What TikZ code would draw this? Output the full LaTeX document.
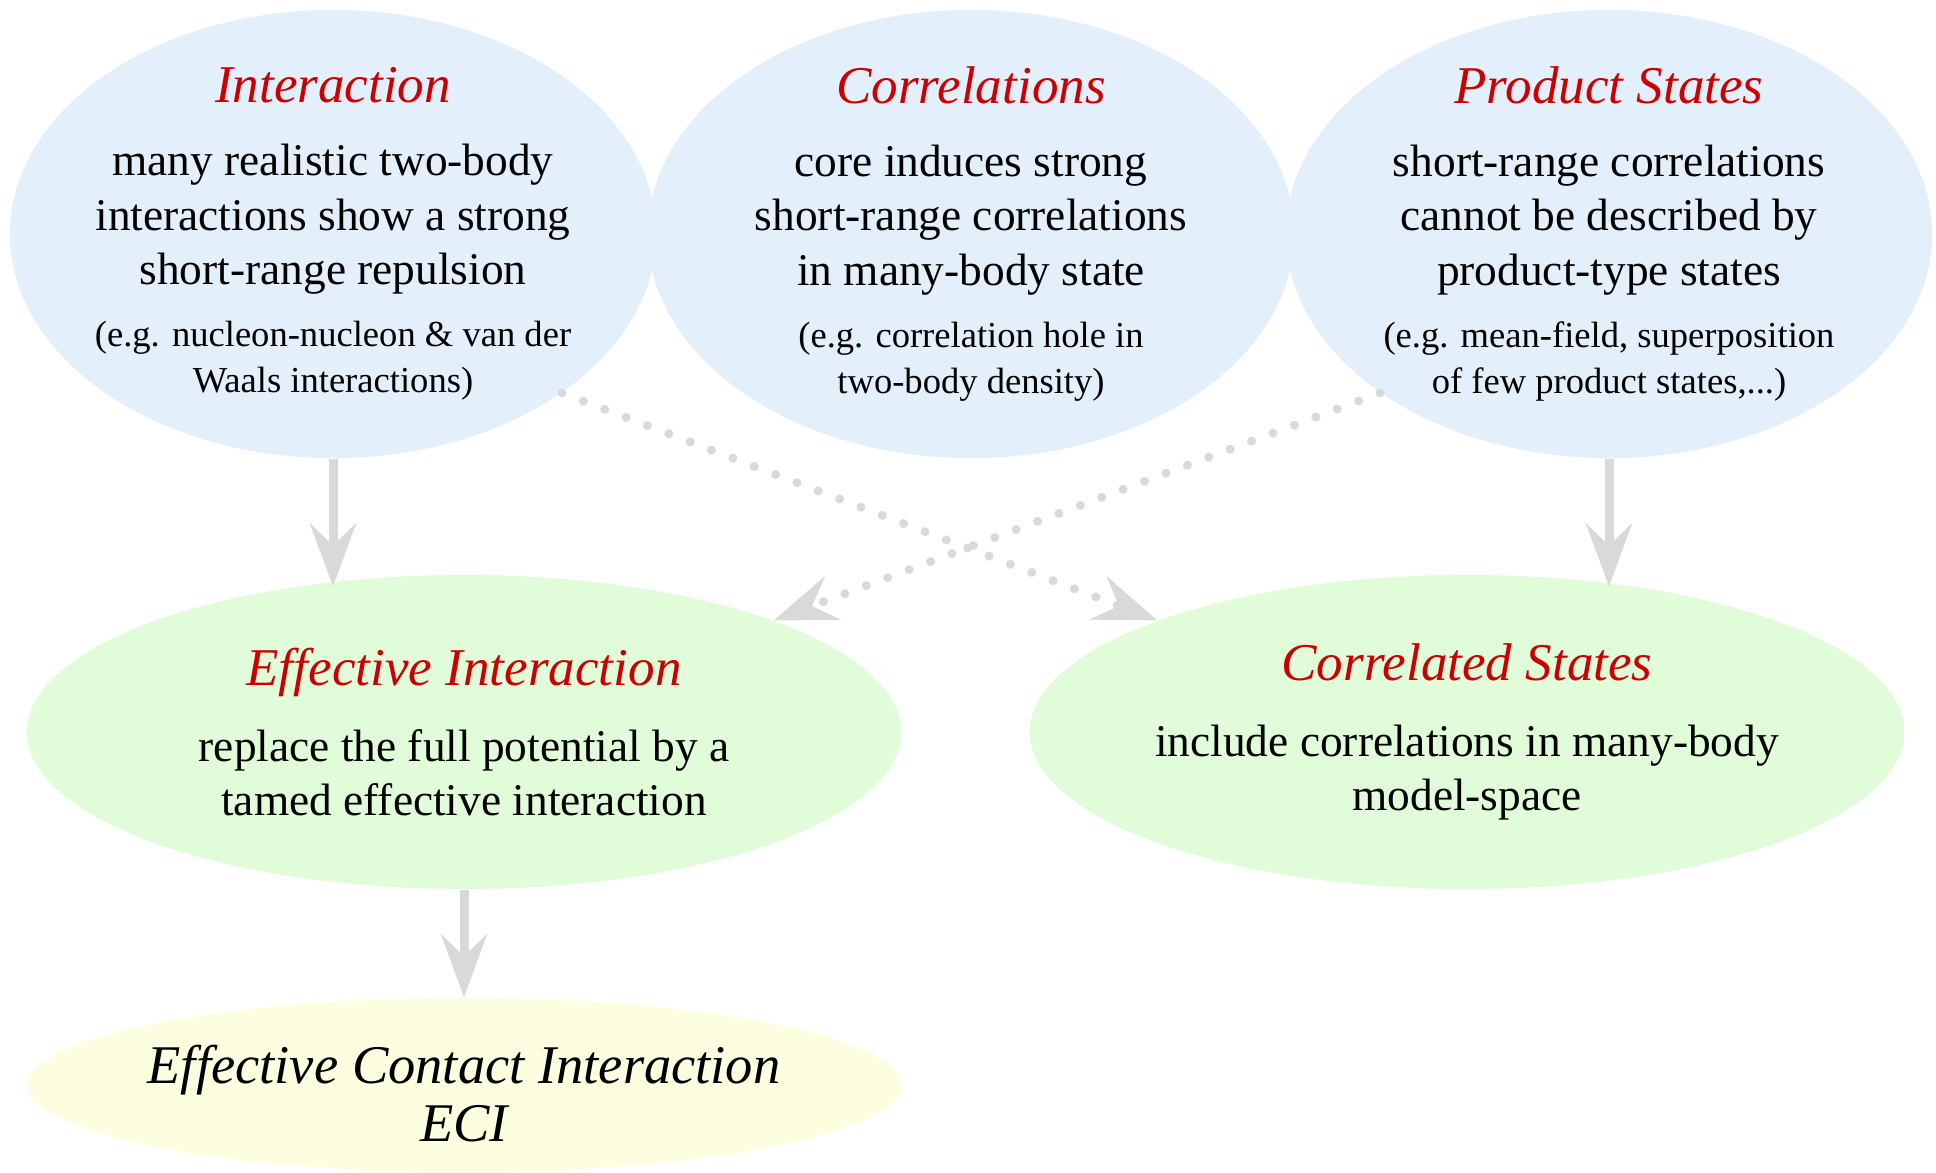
\documentclass[tikz,border=0pt]{standalone}
\usepackage{fontspec}
\setmainfont{Liberation Serif}
\usetikzlibrary{shapes.geometric}
\usetikzlibrary{arrows.meta}
\definecolor{topfill}{RGB}{227,240,252}
\definecolor{midfill}{RGB}{225,252,216}
\definecolor{lowfill}{RGB}{253,253,224}
\definecolor{headred}{RGB}{204,0,0}
\newcommand{\blobhead}[1]{{\color{headred}\fontsize{15.1}{18}\selectfont\itshape #1}}
\newcommand{\blobnote}[1]{{\fontsize{10.4}{12.5}\selectfont #1}}

\begin{document}
\begin{tikzpicture}[x=0.01cm,y=0.01cm,
    blob/.style={ellipse,inner sep=0pt},
    topblob/.style={blob,fill=topfill,minimum width=6.46cm,minimum height=4.48cm},
    midblob/.style={blob,fill=midfill,minimum width=8.74cm,minimum height=3.14cm},
    lowblob/.style={blob,fill=lowfill,minimum width=8.74cm,minimum height=1.74cm},
    blobtext/.style={align=center,font=\fontsize{12.9}{15.4}\selectfont},
    flow/.style={draw=black!15,line width=2.56pt,-{Stealth[length=17.9pt,width=13.1pt,inset=6.3pt]}},
    hint/.style={flow,line cap=round,dash pattern=on 0pt off 6.5pt}]
    \useasboundingbox (0,0) rectangle (1936,1172);

    \node[topblob] (inter) at (333,938) {};
    \node[topblob] (corr)  at (971,938) {};
    \node[topblob] (prod)  at (1609,938) {};
    \node[midblob] (effint) at (464,440) {};
    \node[midblob] (corrst) at (1467,440) {};
    \node[lowblob] (eci) at (464,87) {};

    \node[blobtext] (inter-txt) at (inter) {\blobhead{Interaction}\\[5.4pt]
        many realistic two-body\\ interactions show a strong\\ short-range repulsion\\[2.3pt]
        \blobnote{(e.g. nucleon-nucleon \& van der}\\[-2.3pt] \blobnote{Waals interactions)}};
    \node[blobtext] (corr-txt) at (corr) {\blobhead{Correlations}\\[5.4pt]
        core induces strong\\ short-range correlations\\ in many-body state\\[2.3pt]
        \blobnote{(e.g. correlation hole in}\\[-2.3pt] \blobnote{two-body density)}};
    \node[blobtext] (prod-txt) at (prod) {\blobhead{Product States}\\[5.4pt]
        short-range correlations\\ cannot be described by\\ product-type states\\[2.3pt]
        \blobnote{(e.g. mean-field, superposition}\\[-2.3pt] \blobnote{of few product states,...)}};
    \node[blobtext] (effint-txt) at (effint) {\blobhead{Effective Interaction}\\[6.2pt]
        replace the full potential by a\\ tamed effective interaction};
    \node[blobtext] (corrst-txt) at (corrst) {\blobhead{Correlated States}\\[6.2pt]
        include correlations in many-body\\ model-space};
    \node[align=center,font=\fontsize{15.5}{16.5}\selectfont\itshape,yshift=-2.5pt] (eci-txt) at (eci)
        {Effective Contact Interaction\\ ECI};

    \draw[flow,shorten >=-3.5pt] (inter.south) -- (inter.south |- effint.north);
    \draw[flow,shorten >=-3.5pt] (prod.south) -- (prod.south |- corrst.north);
    \draw[flow] (effint.south) -- (eci.north);
    \draw[hint] (inter.south east) -- (corrst.north west);
    \draw[hint] (prod.south west) -- (effint.north east);
\end{tikzpicture}
\end{document}
